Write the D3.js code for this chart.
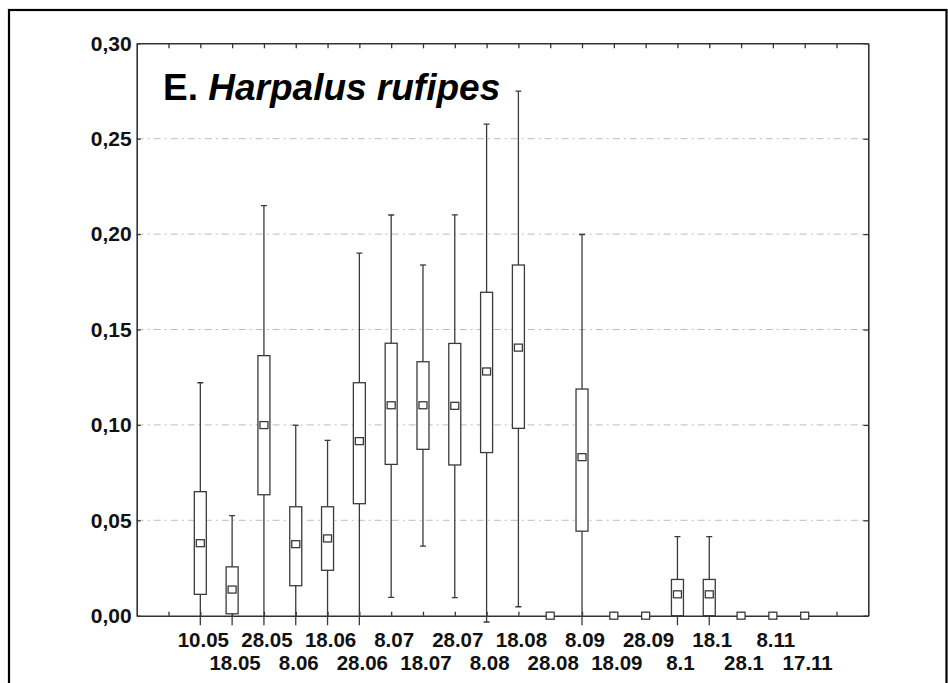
<!DOCTYPE html>
<html>
<head>
<meta charset="utf-8">
<script src="https://cdn.jsdelivr.net/npm/d3@7"></script>
<style>
  html, body { margin: 0; padding: 0; background: #fff; }
  svg { display: block; }
  text { font-family: "Liberation Sans", Arial, Helvetica, sans-serif; }
</style>
</head>
<body>
<svg id="chart" width="948" height="683"></svg>
<script>
// ---- data ----
const categories = ["10.05","18.05","28.05","8.06","18.06","28.06","8.07","18.07","28.07","8.08",
                    "18.08","28.08","8.09","18.09","28.09","8.1","18.1","28.1","8.11","17.11"];
const means    = [0.038, 0.0137, 0.0999, 0.0375, 0.0405, 0.0915, 0.1103, 0.1103, 0.1100, 0.1280,
                  0.1405, 0.0, 0.0831, 0.0, 0.0, 0.0112, 0.0112, 0.0, 0.0, 0.0];
const boxLow   = [0.0112, 0.0010, 0.0634, 0.0157, 0.0238, 0.0587, 0.0793, 0.0872, 0.0790, 0.0855,
                  0.0982, 0.0, 0.0443, 0.0, 0.0, 0.0, 0.0, 0.0, 0.0, 0.0];
const boxHigh  = [0.0650, 0.0256, 0.1363, 0.0571, 0.0571, 0.1221, 0.1428, 0.1331, 0.1427, 0.1695,
                  0.1838, 0.0, 0.1188, 0.0, 0.0, 0.0190, 0.0190, 0.0, 0.0, 0.0];
const whiskLow = [-0.046, -0.025, -0.015, -0.025, -0.011, -0.008, 0.0096, 0.0365, 0.0095, -0.0033,
                  0.0047, 0.0, -0.033, 0.0, 0.0, -0.019, -0.019, 0.0, 0.0, 0.0];
const whiskHigh= [0.1221, 0.0524, 0.2149, 0.0998, 0.0919, 0.1900, 0.2100, 0.1838, 0.2101, 0.2576,
                  0.2749, 0.0, 0.1998, 0.0, 0.0, 0.0414, 0.0414, 0.0, 0.0, 0.0];
const yTicks = [0, 0.05, 0.10, 0.15, 0.20, 0.25, 0.30];
const titlePlain = "E. ";
const titleItalic = "Harpalus rufipes";

// ---- layout ----
const svg = d3.select("#chart");
const pL = 136.7, pR = 868.3, pT = 43.3, pB = 615.7;

// slots: one empty slot at each end
const slots = ["_s"].concat(categories, ["_e"]);
const x = d3.scalePoint().domain(slots).range([pL, pR]).padding(1);
const y = d3.scaleLinear().domain([0, 0.30]).range([pB, pT]);
const fmt = v => d3.format(".2f")(v).replace(".", ",");

// outer frame
svg.append("rect").attr("x", 9).attr("y", 10).attr("width", 937.5).attr("height", 720)
  .attr("fill", "none").attr("stroke", "#000").attr("stroke-width", 2.2);

// gridlines
svg.append("g").selectAll("line").data(yTicks.filter(v => v > 0 && v < 0.30)).join("line")
  .attr("x1", pL).attr("x2", pR)
  .attr("y1", d => y(d)).attr("y2", d => y(d))
  .attr("stroke", "#bdbdbd").attr("stroke-width", 1)
  .attr("stroke-dasharray", "7,4,2,4");

// axes
const axisColor = "#333";
const gL = svg.append("g").attr("transform", `translate(${pL},0)`)
  .call(d3.axisLeft(y).tickValues(yTicks).tickFormat(fmt).tickSizeInner(-4).tickSizeOuter(0).tickPadding(5));
const gR = svg.append("g").attr("transform", `translate(${pR},0)`)
  .call(d3.axisRight(y).tickValues(yTicks).tickFormat("").tickSizeInner(-5).tickSizeOuter(0));
const gT = svg.append("g").attr("transform", `translate(0,${pT})`)
  .call(d3.axisTop(x).tickFormat("").tickSizeInner(-5).tickSizeOuter(0));
const gB = svg.append("g").attr("transform", `translate(0,${pB})`)
  .call(d3.axisBottom(x).tickFormat("").tickSizeInner(-4).tickSizeOuter(0));
[gL, gR, gT, gB].forEach(g => {
  g.select(".domain").attr("stroke", axisColor).attr("stroke-width", 1.6);
  g.selectAll(".tick line").attr("stroke", axisColor).attr("stroke-width", 1.3);
});
gL.selectAll(".tick text")
  .attr("font-family", '"Liberation Sans", Arial, sans-serif')
  .attr("font-size", 21).attr("font-weight", "bold").attr("fill", "#111");

// x labels in two staggered rows
svg.append("g").selectAll("text").data(categories).join("text")
  .attr("x", d => x(d) + 3)
  .attr("y", (d, i) => i % 2 === 0 ? 646.5 : 670)
  .attr("text-anchor", "middle")
  .attr("font-size", 20.5).attr("font-weight", "bold").attr("fill", "#111")
  .text(d => d);

// clip for the boxes (whiskers run slightly below the axis)
svg.append("clipPath").attr("id", "plotclip").append("rect")
  .attr("x", pL).attr("y", pT).attr("width", pR - pL).attr("height", pB + 9.5 - pT);

const rows = categories.map((c, i) => ({
  c, m: means[i], bl: boxLow[i], bh: boxHigh[i], wl: whiskLow[i], wh: whiskHigh[i]
}));
const boxW = 12, capW = 6, medW = 8, medH = 7;
const gBox = svg.append("g").attr("clip-path", "url(#plotclip)")
  .attr("stroke", "#3a3a3a").attr("stroke-width", 1.3);

const bx = gBox.selectAll("g.b").data(rows).join("g").attr("class", "b");
bx.append("line")
  .attr("x1", d => x(d.c)).attr("x2", d => x(d.c))
  .attr("y1", d => y(d.wl)).attr("y2", d => y(d.wh));
bx.filter(d => d.wh > d.m).append("line")
  .attr("x1", d => x(d.c) - capW / 2).attr("x2", d => x(d.c) + capW / 2)
  .attr("y1", d => y(d.wh)).attr("y2", d => y(d.wh));
bx.filter(d => d.wl < d.m).append("line")
  .attr("x1", d => x(d.c) - capW / 2).attr("x2", d => x(d.c) + capW / 2)
  .attr("y1", d => y(d.wl)).attr("y2", d => y(d.wl));
bx.filter(d => d.bh > d.bl).append("rect")
  .attr("x", d => x(d.c) - boxW / 2).attr("width", boxW)
  .attr("y", d => y(d.bh)).attr("height", d => y(d.bl) - y(d.bh))
  .attr("fill", "#fff");
bx.append("rect")
  .attr("x", d => x(d.c) - medW / 2).attr("width", medW)
  .attr("y", d => y(d.m) - medH / 2).attr("height", medH)
  .attr("fill", "#fff");

// title
const t = svg.append("text").attr("x", 163).attr("y", 100)
  .attr("font-size", 37).attr("font-weight", "bold").attr("fill", "#000");
t.append("tspan").text(titlePlain);
t.append("tspan").attr("font-style", "italic").text(titleItalic);
</script>
</body>
</html>
